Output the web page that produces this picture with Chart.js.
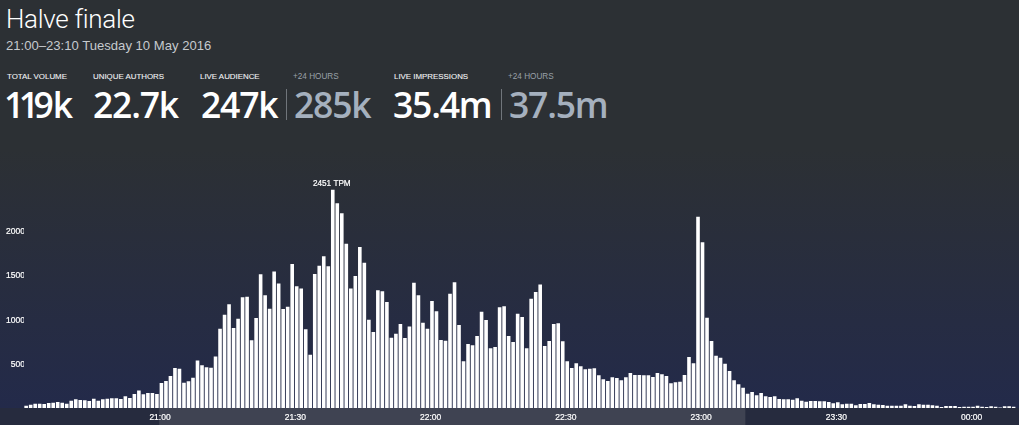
<!DOCTYPE html>
<html>
<head>
<meta charset="utf-8">
<title>Halve finale</title>
<script src="https://cdn.jsdelivr.net/npm/chart.js@4/dist/chart.umd.min.js"></script>
<style>
  html, body { margin: 0; padding: 0; }
  body {
    width: 1019px; height: 425px; overflow: hidden; position: relative;
    background: linear-gradient(180deg, #2c3034 0px, #2c3034 150px, #232a4a 408px);
    font-family: "Liberation Sans", sans-serif; color: #fff;
  }
  canvas { position: absolute; left: 0; top: 0; }
  .t { position: absolute; white-space: nowrap; }
  #title { left: 6px; top: 3px; font: 300 26px/32px Roboto, sans-serif; letter-spacing: -0.3px; }
  #sub { left: 6px; top: 37px; font: 400 13.1px/17px "Liberation Sans", sans-serif; color: #c6cace; }
  .lab { top: 71px; font: 400 7.9px/11px "Liberation Sans", sans-serif; color: #f2f3f4; -webkit-text-stroke: 0.1px #f2f3f4; }
  .lab.dim { font-size: 8.2px; color: #99a0a8; -webkit-text-stroke: 0; }
  .num { top: 82px; font: 600 35.5px/44px "Open Sans", sans-serif; letter-spacing: -1.2px; }
  .num.dim { color: #a5b0be; }
  .ones { letter-spacing: -5.5px; }
  .sep { position: absolute; top: 89px; width: 1px; height: 31px; background: #70757b; }
</style>
</head>
<body>
<div class="t" id="title">Halve finale</div>
<div class="t" id="sub">21:00–23:10 Tuesday 10 May 2016</div>

<div class="t lab" style="left:7px">TOTAL VOLUME</div>
<div class="t num" style="left:4px"><span class="ones">11</span>9k</div>
<div class="t lab" style="left:93px">UNIQUE AUTHORS</div>
<div class="t num" style="left:93px">22.7k</div>
<div class="t lab" style="left:200px">LIVE AUDIENCE</div>
<div class="t num" style="left:201px">247k</div>
<div class="sep" style="left:286px"></div>
<div class="t lab dim" style="left:293px">+24 HOURS</div>
<div class="t num dim" style="left:294px">285k</div>
<div class="t lab" style="left:394px">LIVE IMPRESSIONS</div>
<div class="t num" style="left:393px">35.4m</div>
<div class="sep" style="left:501px"></div>
<div class="t lab dim" style="left:508px">+24 HOURS</div>
<div class="t num dim" style="left:509px">37.5m</div>

<canvas id="chart" width="1019" height="425"></canvas>

<script>
// ============================
// DATA
// ============================
const minutes = [
  "20:30","20:31","20:32","20:33","20:34","20:35","20:36","20:37","20:38","20:39",
  "20:40","20:41","20:42","20:43","20:44","20:45","20:46","20:47","20:48","20:49",
  "20:50","20:51","20:52","20:53","20:54","20:55","20:56","20:57","20:58","20:59",
  "21:00","21:01","21:02","21:03","21:04","21:05","21:06","21:07","21:08","21:09",
  "21:10","21:11","21:12","21:13","21:14","21:15","21:16","21:17","21:18","21:19",
  "21:20","21:21","21:22","21:23","21:24","21:25","21:26","21:27","21:28","21:29",
  "21:30","21:31","21:32","21:33","21:34","21:35","21:36","21:37","21:38","21:39",
  "21:40","21:41","21:42","21:43","21:44","21:45","21:46","21:47","21:48","21:49",
  "21:50","21:51","21:52","21:53","21:54","21:55","21:56","21:57","21:58","21:59",
  "22:00","22:01","22:02","22:03","22:04","22:05","22:06","22:07","22:08","22:09",
  "22:10","22:11","22:12","22:13","22:14","22:15","22:16","22:17","22:18","22:19",
  "22:20","22:21","22:22","22:23","22:24","22:25","22:26","22:27","22:28","22:29",
  "22:30","22:31","22:32","22:33","22:34","22:35","22:36","22:37","22:38","22:39",
  "22:40","22:41","22:42","22:43","22:44","22:45","22:46","22:47","22:48","22:49",
  "22:50","22:51","22:52","22:53","22:54","22:55","22:56","22:57","22:58","22:59",
  "23:00","23:01","23:02","23:03","23:04","23:05","23:06","23:07","23:08","23:09",
  "23:10","23:11","23:12","23:13","23:14","23:15","23:16","23:17","23:18","23:19",
  "23:20","23:21","23:22","23:23","23:24","23:25","23:26","23:27","23:28","23:29",
  "23:30","23:31","23:32","23:33","23:34","23:35","23:36","23:37","23:38","23:39",
  "23:40","23:41","23:42","23:43","23:44","23:45","23:46","23:47","23:48","23:49",
  "23:50","23:51","23:52","23:53","23:54","23:55","23:56","23:57","23:58","23:59",
  "00:00","00:01","00:02","00:03","00:04","00:05","00:06","00:07","00:08","00:09"
];

// tweets per minute
const tpm = [
  26,37,49,49,45,56,60,67,60,49,
  82,97,90,86,79,105,82,97,105,109,
  109,101,131,112,157,198,154,169,169,157,
  281,303,360,449,442,285,300,341,535,479,
  457,453,580,891,1049,1165,899,1004,1243,1251,
  760,1011,1502,1266,1116,1535,1400,1112,1138,1618,
  1367,1344,884,599,1505,1599,1704,1592,2451,2300,
  2187,1846,1344,1483,1809,1633,992,854,1322,1311,
  1191,790,835,944,786,917,1408,1266,959,891,
  1202,1086,764,756,1285,1412,933,524,719,704,
  809,1082,989,670,685,1131,1142,809,742,1060,
  1022,670,1228,1303,1389,697,753,944,951,749,
  524,449,502,468,434,442,446,367,322,303,
  345,337,311,345,393,371,371,367,367,348,
  393,378,360,277,288,296,371,573,502,2150,
  1861,1015,753,588,565,498,416,311,266,228,
  161,180,142,169,131,124,131,101,97,97,
  94,109,82,71,79,79,75,75,67,52,
  64,41,49,49,30,45,45,56,41,37,
  34,26,26,26,26,41,26,22,41,37,
  37,30,26,11,22,22,22,11,15,15,
  15,26,15,11,19,15,7,19,19,15
];

const xTickLabels = ["21:00","21:30","22:00","22:30","23:00","23:30","00:00"];
const yTickValues = [500,1000,1500,2000];
const rangeStart = "21:00";
const rangeEnd = "23:10";
const peakLabel = "2451 TPM";

// ============================
// PLUGINS
// ============================
// axis strip under the bars, with the selected time range lit up
const stripPlugin = {
  id: "strip",
  beforeDraw(chart){
    const ctx = chart.ctx;
    const area = chart.chartArea;
    const x = chart.scales.x;
    const half = x.getPixelForValue(1) - x.getPixelForValue(0);
    const from = x.getPixelForValue(minutes.indexOf(rangeStart)) - half / 2;
    const to = x.getPixelForValue(minutes.indexOf(rangeEnd)) - half / 2;
    ctx.save();
    ctx.fillStyle = "#262b3e";
    ctx.fillRect(0, area.bottom, chart.width, chart.height - area.bottom);
    ctx.fillStyle = "#3f4352";
    ctx.fillRect(from, area.bottom, to - from, chart.height - area.bottom);
    ctx.restore();
  }
};

// label above the tallest bar
const peakPlugin = {
  id: "peak",
  afterDatasetsDraw(chart){
    const bar = chart.getDatasetMeta(0).data[tpm.indexOf(Math.max(...tpm))];
    const ctx = chart.ctx;
    ctx.save();
    ctx.fillStyle = "#ffffff";
    ctx.strokeStyle = "#ffffff";
    ctx.lineWidth = 0.2;
    ctx.font = "8.2px 'Liberation Sans', sans-serif";
    ctx.textAlign = "center";
    ctx.textBaseline = "middle";
    ctx.strokeText(peakLabel, bar.x - 1, bar.y - 6.5);
    ctx.fillText(peakLabel, bar.x - 1, bar.y - 6.5);
    ctx.restore();
  }
};

// ============================
// CHART
// ============================
new Chart(document.getElementById("chart"), {
  type: "bar",
  data: {
    labels: minutes,
    datasets: [{
      data: tpm,
      backgroundColor: "#ffffff",
      barPercentage: 0.8,
      categoryPercentage: 1
    }]
  },
  options: {
    responsive: false,
    animation: false,
    layout: { padding: { top: 176.6, right: 3.1, left: 0, bottom: 0 } },
    plugins: { legend: { display: false }, tooltip: { enabled: false } },
    scales: {
      x: {
        grid: { display: false, drawTicks: false },
        border: { display: false },
        afterFit(scale){ scale.height = 17; },
        ticks: {
          autoSkip: false,
          maxRotation: 0,
          padding: 5,
          labelOffset: -1.4,
          color: "#ffffff",
          textStrokeColor: "#ffffff",
          textStrokeWidth: 0.2,
          font: { size: 8.5, family: "'Liberation Sans', sans-serif" },
          callback(value){
            const label = minutes[value];
            return xTickLabels.includes(label) ? label : "";
          }
        }
      },
      y: {
        min: 0,
        max: 2600,
        afterFit(scale){ scale.width = 23.9; },
        afterBuildTicks(scale){
          scale.ticks = yTickValues.map(v => ({ value: v }));
        },
        grid: { display: false, drawTicks: false },
        border: { display: false },
        ticks: {
          padding: -1,
          labelOffset: 1.4,
          color: "#ffffff",
          textStrokeColor: "#ffffff",
          textStrokeWidth: 0.2,
          font: { size: 8.5, family: "'Liberation Sans', sans-serif" },
          callback(value){ return String(value); }
        }
      }
    }
  },
  plugins: [stripPlugin, peakPlugin]
});
</script>
</body>
</html>
